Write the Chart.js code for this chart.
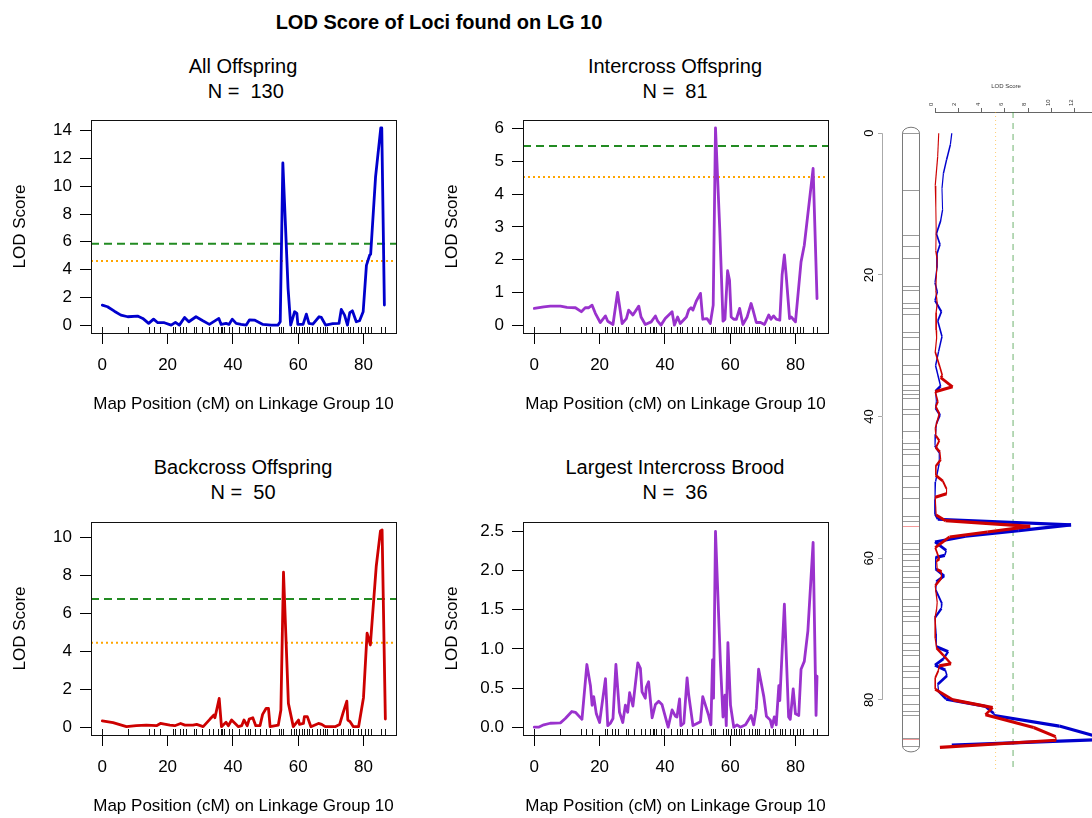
<!DOCTYPE html>
<html lang="en">
<head>
<meta charset="UTF-8">
<title>LOD Score of Loci found on LG 10</title>
<script src="https://cdn.jsdelivr.net/npm/chart.js"></script>
<style>
    body {
        margin: 0;
        width: 1092px;
        height: 818px;
        overflow: hidden;
        position: relative;
        background: #fff;
        font-family: 'Liberation Sans', Arial, Helvetica, sans-serif;
    }
    canvas { position: absolute; }
    .txt {
        position: absolute;
        text-align: center;
        color: #000;
        white-space: pre;
        font-size: 20px;
        line-height: 25px;
        width: 400px;
    }
</style>
</head>
<body>
    <div class="txt" style="left:0; width:878px; top:10px; font-weight:bold; line-height:24px;">LOD Score of Loci found on LG 10</div>
    <div class="txt" style="left:43px; top:54px;">All Offspring
 N =  130</div>
    <div class="txt" style="left:475px; top:54px;">Intercross Offspring
N =  81</div>
    <div class="txt" style="left:43px; top:455px;">Backcross Offspring
N =  50</div>
    <div class="txt" style="left:475px; top:455px;">Largest Intercross Brood
N =  36</div>

    <canvas id="allChart" width="430" height="330" style="left:0; top:100px;"></canvas>
    <canvas id="interChart" width="430" height="330" style="left:432px; top:100px;"></canvas>
    <canvas id="backChart" width="430" height="330" style="left:0; top:502px;"></canvas>
    <canvas id="broodChart" width="430" height="330" style="left:432px; top:502px;"></canvas>
    <canvas id="sideChart" width="300" height="720" style="left:850px; top:70px;"></canvas>

<script>
    // marker positions on LG 10 (cM), used for the rug and the chromosome drawing
    const markerPos = [0, 8.0, 14.4, 15.9, 17.6, 21.6, 22.2, 23.9, 24.7, 25.5, 28.0, 28.8, 30.4, 32.7, 34.0,
        35.5, 36.3, 36.8, 37.4, 38.9, 39.7, 42.0, 43.8, 44.6, 45.3, 46.8, 48.4, 50.0, 51.5, 54.0, 54.7, 55.4,
        57.9, 58.7, 59.4, 60.3, 61.1, 61.8, 62.6, 63.4, 64.1, 65.8, 66.8, 67.5, 68.2, 68.9, 70.8, 72.0, 73.0,
        73.7, 75.2, 75.9, 76.7, 78.3, 79.3, 80.6, 81.5, 82.2, 85.4, 86.5];
    const qtlPeaks = [55.5, 85.5];

    // All offspring
    const allPos = [0, 1.6, 3.7, 5.7, 7.8, 10.8, 12.4, 14.2, 15.7, 17.0, 19.0, 21.1, 22.4, 23.6, 25.2, 26.5,
        28.7, 30.8, 32.8, 35.7, 36.4, 37.9, 38.8, 39.8, 41.0, 42.5, 44.1, 45.1, 46.6, 49.2, 51.7, 53.8, 54.5,
        55.3, 56.1, 56.9, 57.7, 58.9, 59.6, 59.9, 61.5, 62.5, 63.3, 64.5, 66.4, 67.1, 68.4, 70.6, 72.5, 73.2,
        74.2, 75.1, 75.8, 76.6, 77.8, 78.8, 79.9, 80.9, 81.9, 82.2, 83.7, 85.3, 85.6, 86.4];
    const allLod = [1.44, 1.32, 1.0, 0.72, 0.6, 0.65, 0.48, 0.12, 0.43, 0.17, 0.17, 0, 0.2, 0, 0.55, 0.24,
        0.6, 0.31, 0.05, 0.48, 0.05, 0.12, 0.05, 0.43, 0.12, 0.05, 0, 0.38, 0.36, 0.05, 0, 0, 0.24,
        11.68, 7.2, 2.64, 0, 0.96, 0.84, 0.05, 0.05, 0.79, 0.12, 0.07, 0.6, 0.55, 0, 0.1, 0.12, 1.13,
        0.72, 0, 0.89, 1.03, 0.24, 0.31, 0.96, 4.3, 5.04, 5.1, 10.67, 14.2, 14.2, 1.44];

    // Intercross offspring
    const interPos = [0, 2.9, 4.9, 8.0, 10.0, 12.6, 14.4, 15.6, 16.6, 17.7, 18.7, 20.2, 21.8, 22.5, 24.1,
        25.5, 26.9, 28.2, 28.9, 30.2, 32.0, 32.7, 34.0, 35.8, 37.1, 37.8, 38.8, 40.1, 42.2, 42.9, 43.9, 44.7,
        46.6, 47.3, 48.0, 48.6, 49.6, 50.9, 51.6, 52.9, 53.9, 54.8, 55.5, 56.8, 57.8, 58.4, 59.2, 59.8, 60.3,
        61.1, 61.9, 62.9, 63.9, 65.2, 66.4, 67.0, 68.0, 69.3, 70.5, 71.8, 72.5, 73.3, 74.1, 75.2, 75.9, 76.6,
        77.1, 78.2, 78.7, 79.3, 80.0, 81.7, 82.7, 85.4, 86.6];
    const interLod = [0.51, 0.56, 0.58, 0.58, 0.54, 0.53, 0.41, 0.53, 0.53, 0.61, 0.36, 0.08, 0.28, 0.12, 0.02,
        1.0, 0.05, 0.2, 0.46, 0.31, 0.58, 0.25, 0.02, 0.1, 0.28, 0.12, 0, 0.2, 0.41, 0, 0.25, 0.05,
        0.25, 0.46, 0.53, 0.46, 0.73, 0.97, 0.18, 0.2, 0.05, 0.61, 6.02, 2.95, 0.12, 0.18, 1.66, 1.37, 0.25,
        0.18, 0.18, 0.51, 0.02, 0.25, 0.66, 0.46, 0.08, 0.08, 0.02, 0.31, 0.18, 0.28, 0.18, 0.15, 1.53, 2.14,
        1.58, 0.2, 0.25, 0.18, 0.1, 1.93, 2.44, 4.78, 0.81];

    // Backcross offspring
    const backPos = [0, 3.3, 7.4, 10.4, 13.5, 16.6, 17.8, 20.7, 22.2, 24.0, 25.3, 27.8, 28.9, 30.9, 33.0,
        34.2, 34.5, 35.8, 36.5, 37.9, 38.6, 39.6, 41.7, 42.7, 43.4, 44.4, 45.0, 46.1, 47.0, 48.3, 49.1, 50.2,
        50.9, 51.4, 53.9, 54.7, 55.5, 56.3, 57.0, 58.5, 60.1, 60.4, 61.6, 61.9, 62.8, 63.9, 66.2, 67.2, 68.3,
        71.3, 72.7, 73.7, 74.9, 75.2, 75.9, 76.9, 78.5, 80.0, 81.1, 82.1, 83.9, 85.2, 85.7, 86.7];
    const backLod = [0.32, 0.23, 0.02, 0.07, 0.1, 0.07, 0.19, 0.1, 0.07, 0.19, 0.1, 0.1, 0.14, 0.02, 0.42,
        0.63, 0.49, 1.51, 0.02, 0.25, 0.07, 0.37, 0.02, 0.07, 0.37, 0.07, 0.42, 0.49, 0.07, 0.07, 0.67, 0.99,
        0.99, 0.02, 0.1, 0.9, 8.17, 4.5, 1.25, 0.02, 0.37, 0.14, 0.19, 0.55, 0.55, 0.02, 0.19, 0.14, 0.02,
        0.02, 0.14, 0.72, 1.37, 0.37, 0.28, 0.02, 0.02, 1.55, 4.95, 4.33, 8.47, 10.35, 10.4, 0.42];

    // Largest intercross brood
    const broodPos = [0, 1.3, 2.9, 4.9, 8.0, 9.5, 11.5, 12.6, 14.6, 16.1, 17.2, 17.7, 18.2, 19.0, 20.0,
        21.8, 22.5, 23.3, 24.1, 25.0, 26.1, 27.1, 27.9, 28.6, 29.2, 30.2, 31.7, 32.5, 33.0, 34.0, 34.3, 35.0,
        36.1, 37.1, 38.1, 39.1, 41.0, 42.2, 43.2, 43.7, 44.5, 44.9, 45.8, 46.8, 47.3, 48.6, 50.9, 51.6, 53.4,
        54.1, 54.6, 54.9, 55.5, 57.0, 57.8, 58.4, 58.8, 59.3, 60.1, 61.1, 62.1, 63.1, 64.7, 66.4, 67.2, 68.0,
        68.7, 70.3, 71.1, 72.3, 72.8, 73.5, 74.1, 74.9, 75.2, 76.6, 77.9, 78.4, 79.3, 80.0, 81.0, 81.7, 82.7,
        83.8, 85.4, 86.3, 86.6];
    const broodLod = [0, 0, 0.03, 0.05, 0.055, 0.11, 0.2, 0.19, 0.1, 0.8, 0.53, 0.28, 0.39, 0.17, 0.06,
        0.62, 0.02, 0.05, 0.11, 0.8, 0.19, 0.06, 0.28, 0.19, 0.44, 0.27, 0.82, 0.75, 0.45, 0.37, 0.51, 0.58,
        0.12, 0.29, 0.33, 0.29, 0, 0.22, 0.14, 0.13, 0.36, 0.02, 0.05, 0.63, 0.41, 0.02, 0.07, 0.39, 0.15,
        0.03, 0.86, 0.37, 2.5, 0.83, 0.13, 0.41, 0.02, 1.08, 0.28, 0, 0.03, 0, 0.03, 0.15, 0.03, 0.24,
        0.74, 0.39, 0.14, 0.09, 0, 0.13, 0.03, 0.53, 0.34, 1.57, 0.13, 0.1, 0.49, 0.17, 0.15, 0.74, 0.84,
        1.23, 2.36, 0.15, 0.65];

    // significance thresholds: [dashed green, dotted orange]
    const allThresh = [5.86, 4.62];
    const interThresh = [5.47, 4.52];
    const backThresh = [6.76, 4.45];
    const sideThresh = [6.7, 5.2];

    // axes
    const cmTicks = [0, 20, 40, 60, 80];
    const cmLim = [-3.46, 89.96];
    const allTicks = [0, 2, 4, 6, 8, 10, 12, 14];
    const allLim = [-0.57, 14.77];
    const interTicks = [0, 1, 2, 3, 4, 5, 6];
    const interLim = [-0.24, 6.26];
    const backTicks = [0, 2, 4, 6, 8, 10];
    const backLim = [-0.42, 10.82];
    const broodTicks = [0, 0.5, 1, 1.5, 2, 2.5];
    const broodLim = [-0.1, 2.62];
    const sideLodTicks = [0, 2, 4, 6, 8, 10, 12, 14];
    const sideLodLim = [-4.55, 16.74];
    const sideCmLim = [-3.0, 89.9];

    const BLUE = '#0000CD';
    const PURPLE = '#9A32CD';
    const RED = '#CD0000';
    const GREEN = '#228B22';
    const ORANGE = '#FFA500';

    Chart.defaults.font.family = "'Liberation Sans', Arial, Helvetica, sans-serif";
    Chart.defaults.color = '#000';
    Chart.defaults.animation = false;
    Chart.defaults.responsive = false;
    Chart.defaults.plugins.legend.display = false;
    Chart.defaults.plugins.tooltip.enabled = false;
    Chart.defaults.elements.point.radius = 0;

    // box around plot + rug of marker positions
    const panelFrame = {
        id: 'panelFrame',
        afterDatasetsDraw(chart) {
            const {ctx, chartArea: a, scales: {x}} = chart;
            ctx.save();
            ctx.strokeStyle = '#111';
            ctx.lineWidth = 1;
            markerPos.forEach(m => {
                const px = Math.round(x.getPixelForValue(m)) + 0.5;
                ctx.beginPath();
                ctx.moveTo(px, a.bottom);
                ctx.lineTo(px, a.bottom - 6);
                ctx.stroke();
            });
            ctx.strokeRect(Math.round(a.left) + 0.5, Math.round(a.top) + 0.5,
                Math.round(a.width), Math.round(a.height));
            ctx.restore();
        }
    };

    function threshSets(thresh) {
        if (!thresh) return [];
        return [
            { data: cmLim.map(x => ({x, y: thresh[0]})), borderColor: GREEN, borderWidth: 2, borderDash: [8, 5] },
            { data: cmLim.map(x => ({x, y: thresh[1]})), borderColor: ORANGE, borderWidth: 2, borderDash: [2, 3] }
        ];
    }

    function lodPanel(id, pos, lod, color, yLim, yTicks, thresh, decimals) {
        new Chart(document.getElementById(id), {
            type: 'line',
            data: {
                datasets: [
                    {
                        data: pos.map((p, i) => ({x: p, y: lod[i]})),
                        borderColor: color,
                        borderWidth: 2.8,
                        borderJoinStyle: 'round',
                        borderCapStyle: 'round'
                    },
                    ...threshSets(thresh)
                ]
            },
            options: {
                devicePixelRatio: 1,
                layout: { padding: { left: 0, top: 20, right: 34, bottom: 15 } },
                scales: {
                    x: {
                        type: 'linear',
                        min: cmLim[0],
                        max: cmLim[1],
                        afterBuildTicks: s => { s.ticks = cmTicks.map(v => ({value: v})); },
                        afterFit: s => { s.height = 82; },
                        border: { display: false },
                        grid: { drawOnChartArea: false, tickLength: 11, color: '#000' },
                        ticks: { padding: 11, maxRotation: 0, font: { size: 17 } },
                        title: {
                            display: true,
                            text: 'Map Position (cM) on Linkage Group 10',
                            font: { size: 17 },
                            padding: { top: 0, bottom: 0 }
                        }
                    },
                    y: {
                        type: 'linear',
                        min: yLim[0],
                        max: yLim[1],
                        afterBuildTicks: s => { s.ticks = yTicks.map(v => ({value: v})); },
                        afterFit: s => { s.width = 91; },
                        border: { display: false },
                        grid: { drawOnChartArea: false, tickLength: 11, color: '#000' },
                        ticks: {
                            padding: 8,
                            font: { size: 17 },
                            callback: v => decimals ? v.toFixed(decimals) : v
                        },
                        title: {
                            display: true,
                            text: 'LOD Score',
                            font: { size: 17 },
                            padding: { top: 10, bottom: 0 }
                        }
                    }
                }
            },
            plugins: [panelFrame]
        });
    }

    lodPanel('allChart', allPos, allLod, BLUE, allLim, allTicks, allThresh, 0);
    lodPanel('interChart', interPos, interLod, PURPLE, interLim, interTicks, interThresh, 0);
    lodPanel('backChart', backPos, backLod, RED, backLim, backTicks, backThresh, 0);
    lodPanel('broodChart', broodPos, broodLod, PURPLE, broodLim, broodTicks, null, 1);

    // chromosome bar, cM axis and LOD axis line for the side plot
    const sideDecor = {
        id: 'sideDecor',
        beforeDatasetsDraw(chart) {
            const {ctx, chartArea: a, scales: {x, y}} = chart;
            ctx.save();
            const cl = a.left + 20.5, cw = 17;
            const top = y.getPixelForValue(markerPos[0]);
            const bot = y.getPixelForValue(markerPos[markerPos.length - 1]);
            ctx.lineWidth = 1;
            ctx.strokeStyle = '#9a9a9a';
            markerPos.forEach(m => {
                const py = Math.round(y.getPixelForValue(m)) + 0.5;
                ctx.beginPath();
                ctx.moveTo(cl, py);
                ctx.lineTo(cl + cw, py);
                ctx.stroke();
            });
            ctx.strokeStyle = '#f39a9a';
            qtlPeaks.forEach(m => {
                const py = Math.round(y.getPixelForValue(m)) + 0.5;
                ctx.beginPath();
                ctx.moveTo(cl, py);
                ctx.lineTo(cl + cw, py);
                ctx.stroke();
            });
            ctx.strokeStyle = '#7a7a7a';
            ctx.beginPath();
            ctx.moveTo(cl, top);
            ctx.ellipse(cl + cw / 2, top, cw / 2, 6, 0, Math.PI, 2 * Math.PI);
            ctx.lineTo(cl + cw, bot);
            ctx.ellipse(cl + cw / 2, bot, cw / 2, 6, 0, 0, Math.PI);
            ctx.closePath();
            ctx.stroke();

            // cM axis
            const ax = Math.round(a.left) + 0.5;
            ctx.strokeStyle = '#aaa';
            ctx.beginPath();
            ctx.moveTo(ax, y.getPixelForValue(cmTicks[0]));
            ctx.lineTo(ax, y.getPixelForValue(cmTicks[cmTicks.length - 1]));
            ctx.stroke();
            ctx.fillStyle = '#000';
            ctx.font = "13px 'Liberation Sans', Arial, sans-serif";
            ctx.textAlign = 'center';
            ctx.textBaseline = 'middle';
            cmTicks.forEach(v => {
                ctx.save();
                ctx.translate(a.left - 13, y.getPixelForValue(v));
                ctx.rotate(-Math.PI / 2);
                ctx.fillText(String(v), 0, 0);
                ctx.restore();
            });

            // LOD axis line
            ctx.strokeStyle = '#666';
            const ay = Math.round(a.top) + 0.5;
            ctx.beginPath();
            ctx.moveTo(x.getPixelForValue(sideLodTicks[0]), ay);
            ctx.lineTo(x.getPixelForValue(sideLodTicks[sideLodTicks.length - 1]), ay);
            ctx.stroke();
            ctx.restore();
        }
    };

    // thin where the curve runs along the map, thick where it swings out
    const sideWidth = c => {
        const dx = c.p1.x - c.p0.x, dy = c.p1.y - c.p0.y;
        const len = Math.hypot(dx, dy) || 1;
        return 1 + 2.2 * Math.abs(dx) / len;
    };

    new Chart(document.getElementById('sideChart'), {
        type: 'line',
        data: {
            datasets: [
                {
                    data: backPos.map((p, i) => ({x: backLod[i], y: p})),
                    borderColor: RED,
                    borderWidth: 1.5,
                    segment: { borderWidth: sideWidth }
                },
                {
                    data: allPos.map((p, i) => ({x: allLod[i], y: p})),
                    borderColor: BLUE,
                    borderWidth: 1.5,
                    segment: { borderWidth: sideWidth }
                },
                {
                    data: sideCmLim.map(y => ({x: sideThresh[0], y})),
                    borderColor: 'rgba(34,139,34,0.65)', borderWidth: 1, borderDash: [6, 5]
                },
                {
                    data: sideCmLim.map(y => ({x: sideThresh[1], y})),
                    borderColor: 'rgba(255,165,0,0.55)', borderWidth: 1, borderDash: [1, 3]
                }
            ]
        },
        options: {
            devicePixelRatio: 1,
            indexAxis: 'y',
            layout: { padding: { left: 0, top: 0, right: 20, bottom: 20 } },
            scales: {
                x: {
                    type: 'linear',
                    position: 'top',
                    min: sideLodLim[0],
                    max: sideLodLim[1],
                    afterBuildTicks: s => { s.ticks = sideLodTicks.map(v => ({value: v})); },
                    afterFit: s => { s.height = 42; },
                    border: { display: false },
                    grid: { drawOnChartArea: false, tickLength: 4, color: '#666' },
                    ticks: { padding: 2, labelOffset: 3.6, minRotation: 90, maxRotation: 90, color: '#333', font: { size: 6 } },
                    title: { display: true, text: 'LOD Score', color: '#333', font: { size: 6 }, padding: { top: 13, bottom: 0 } }
                },
                y: {
                    type: 'linear',
                    reverse: true,
                    min: sideCmLim[0],
                    max: sideCmLim[1],
                    afterBuildTicks: s => { s.ticks = cmTicks.map(v => ({value: v})); },
                    afterFit: s => { s.width = 32; },
                    border: { display: false },
                    grid: { drawOnChartArea: false, tickLength: 4, color: '#aaa' },
                    ticks: { display: false }
                }
            }
        },
        plugins: [sideDecor]
    });
</script>
</body>
</html>
